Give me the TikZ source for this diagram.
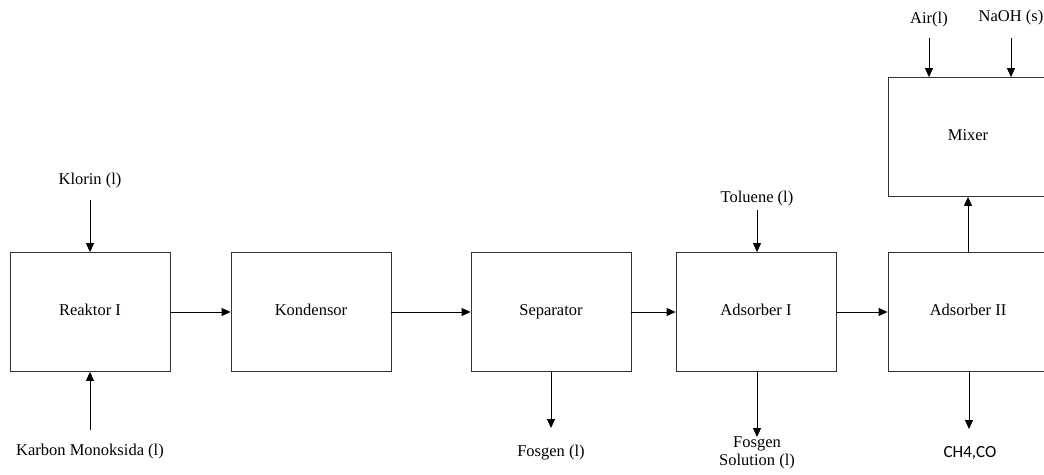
\documentclass[tikz,border=0pt]{standalone}
\usepackage{fontspec}
\setmainfont{Liberation Serif}
\newfontfamily\calfont{Carlito}
\usetikzlibrary{arrows.meta}
\begin{document}
\begin{tikzpicture}[x=1pt, y=-1pt,
	every node/.style={font=\fontsize{16.5}{18}\selectfont},
	unit/.style={draw=black!80, line width=0.8pt, minimum width=160pt, minimum height=119pt, inner sep=0pt, text height=1.5ex, text depth=0ex},
	flow/.style={-{Triangle[length=9pt, width=8pt]}, line width=0.9pt}]
\useasboundingbox (0,0) rectangle (1044,474);
\clip (0,0) rectangle (1044,474);

% process units
\foreach \n\x\t in {reaktor/90/Reaktor I, kondensor/311/Kondensor, separator/551/Separator, adsorber1/756/Adsorber I, adsorber2/968/Adsorber II}{
	\node[unit](\n) at(\x,312) {\t};
}
\node[unit](mixer) at(968,137) {Mixer};

% main line
\foreach \u \v in {
reaktor/kondensor%
,kondensor/separator%
,separator/adsorber1%
,adsorber1/adsorber2%
}{
	\draw[flow] (\u) -- (\v);
}
\draw[flow] (adsorber2) -- (mixer);

% feeds
\node(klorin) at(90,181) {Klorin (l)};
\coordinate(klorin-in) at(90,200);
\draw[flow] (klorin-in) -- (reaktor);

\node(karbon) at(90,452) {Karbon Monoksida (l)};
\coordinate(karbon-in) at(90,430);
\draw[flow] (karbon-in) -- (reaktor);

\node(toluene) at(757,199) {Toluene (l)};
\coordinate(toluene-in) at(757,210);
\draw[flow] (toluene-in) -- (toluene-in |- adsorber1.north);

\node(air) at(929,20) {Air(l)};
\coordinate(air-in) at(929,38);
\draw[flow] (air-in) -- (air-in |- mixer.north);

\node(naoh) at(1011,18) {NaOH (s)};
\coordinate(naoh-in) at(1011,38);
\draw[flow] (naoh-in) -- (naoh-in |- mixer.north);

% products
\node(fosgen) at(551,453) {Fosgen (l)};
\coordinate(fosgen-out) at(551,428);
\draw[flow] (separator) -- (fosgen-out);

\node[align=center](solution) at(757,453) {Fosgen\\Solution (l)};
\coordinate(solution-out) at(757,437);
\draw[flow] (solution-out |- adsorber1.south) -- (solution-out);

\node[font=\calfont\fontsize{17}{18}\selectfont](gas) at(970,453) {CH4,CO};
\coordinate(gas-out) at(969,429);
\draw[flow] (gas-out |- adsorber2.south) -- (gas-out);

\end{tikzpicture}
\end{document}
